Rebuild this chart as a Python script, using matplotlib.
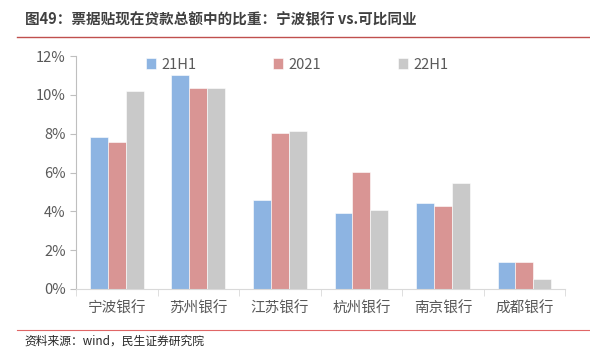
import numpy as np
import matplotlib.pyplot as plt
from matplotlib.lines import Line2D

plt.rcParams['font.family'] = ['Noto Sans CJK SC', 'DejaVu Sans']

banks = ['宁波银行', '苏州银行', '江苏银行', '杭州银行', '南京银行', '成都银行']
s_21h1 = [7.85, 11.05, 4.6, 3.9, 4.45, 1.4]
s_2021 = [7.55, 10.35, 8.05, 6.05, 4.28, 1.4]
s_22h1 = [10.2, 10.38, 8.12, 4.05, 5.45, 0.5]
series_names = ['21H1', '2021', '22H1']
colors = ['#8DB4E2', '#D99594', '#C9C9C9']

fig = plt.figure(figsize=(5.9, 3.55), dpi=100)
ax = fig.add_axes([0.129, 0.186, 0.829, 0.656])

x = np.arange(len(banks))
w = 0.22
for i, (vals, name, c) in enumerate(zip([s_21h1, s_2021, s_22h1], series_names, colors)):
    ax.bar(x + (i - 1) * w, vals, width=w, color=c, label=name,
           edgecolor='white', linewidth=0.4, zorder=2)

ax.set_xlim(-0.5, len(banks) - 0.5)
ax.set_ylim(0, 12)
ax.set_yticks(np.arange(0, 13, 2))
ax.set_yticklabels([f'{v}%' for v in range(0, 13, 2)])
ax.set_xticks(x)
ax.set_xticklabels(banks)
ax.tick_params(axis='x', length=0, pad=9, labelsize=10.5, colors='#595959')
ax.tick_params(axis='y', length=4, direction='out', labelsize=10.5, colors='#595959',
               color='#BFBFBF')
# minor ticks between categories on the x axis
ax.set_xticks(np.arange(-0.5, len(banks), 1), minor=True)
ax.tick_params(axis='x', which='minor', length=5, color='#D9D9D9', direction='out')

for s in ['top', 'right']:
    ax.spines[s].set_visible(False)
ax.spines['left'].set_color('#BFBFBF')
ax.spines['bottom'].set_color('#D9D9D9')

ax.legend(loc='upper center', bbox_to_anchor=(0.452, 1.05), ncol=3, frameon=False,
          fontsize=10.5, handlelength=0.7, handleheight=0.7, handletextpad=0.35,
          columnspacing=5.25, labelcolor='#595959')

fig.text(0.042, 0.945, '图49：票据贴现在贷款总额中的比重：宁波银行 vs.可比同业',
         fontsize=10.5, fontweight='bold', color='#404040', va='center')
fig.add_artist(Line2D([0.029, 1.0], [0.895, 0.895], color='#C0504D', linewidth=1.0))
fig.add_artist(Line2D([0.029, 1.0], [0.07, 0.07], color='#E06666', linewidth=0.8))
fig.text(0.042, 0.038, '资料来源：wind，民生证券研究院', fontsize=8.5, color='#262626', va='center')

fig.savefig('out.png', dpi=100)
